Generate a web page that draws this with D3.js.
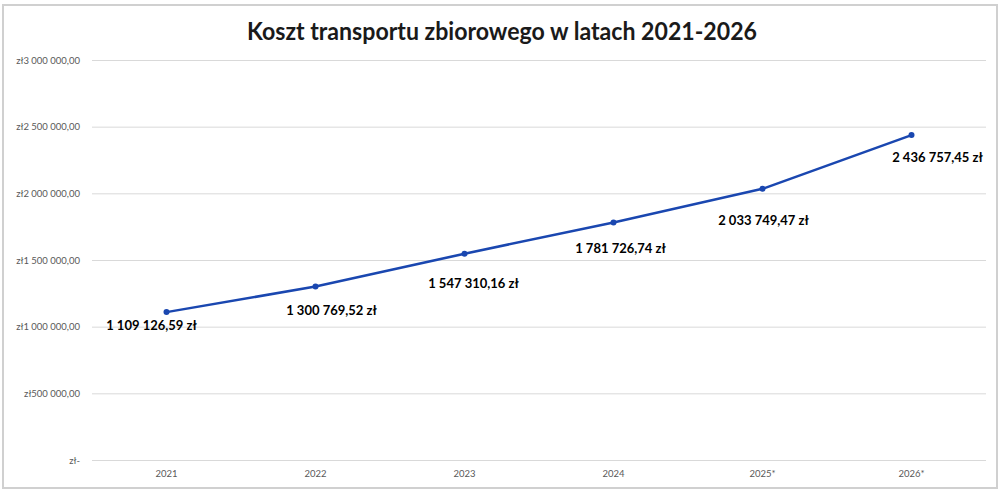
<!DOCTYPE html>
<html><head><meta charset="utf-8">
<script src="https://cdn.jsdelivr.net/npm/d3@7"></script>
<style>body{margin:0;background:#fff;}svg{display:block;}</style>
</head><body>
<svg id="c" width="1005" height="497"></svg>
<script>
const categories = ["2021","2022","2023","2024","2025*","2026*"];
const values = [1109126.59, 1300769.52, 1547310.16, 1781726.74, 2033749.47, 2436757.45];
const yTicks = [0, 500000, 1000000, 1500000, 2000000, 2500000, 3000000];
const yTickLabels = ["zł-","zł500 000,00","zł1 000 000,00","zł1 500 000,00","zł2 000 000,00","zł2 500 000,00","zł3 000 000,00"];
const dataLabels = ["1 109 126,59 zł","1 300 769,52 zł","1 547 310,16 zł","1 781 726,74 zł","2 033 749,47 zł","2 436 757,45 zł"];
const title = "Koszt transportu zbiorowego w latach 2021-2026";

// label placement offsets (style, not data)
const labelOffsets = [[-15,18],[16,28],[9,34],[7,31],[1,36],[26,27]];

const svg = d3.select("#c");
const W = 1005, H = 497;
const m = {left:92, right:19, top:60, bottom:37};

svg.append("rect").attr("x",3).attr("y",5).attr("width",994).attr("height",483)
  .attr("fill","#fff").attr("stroke","#d0d0d0").attr("stroke-width",2);

svg.append("text").attr("x",502).attr("y",40).attr("text-anchor","middle")
  .attr("font-family","Lato, sans-serif").attr("font-weight","bold")
  .attr("font-size",25).attr("fill","#1a1a1a")
  .attr("textLength",510).attr("lengthAdjust","spacingAndGlyphs").text(title);

const x = d3.scaleBand().domain(categories).range([m.left, W - m.right]);
const y = d3.scaleLinear().domain([0,3000000]).range([H - m.bottom, m.top]);

const yAxis = d3.axisLeft(y).tickValues(yTicks).tickSize(-(W - m.right - m.left)).tickPadding(12)
  .tickFormat((d,i)=>yTickLabels[i]);
const gy = svg.append("g").attr("transform",`translate(${m.left},0)`).call(yAxis);
gy.select(".domain").remove();
gy.selectAll(".tick line").attr("stroke","#d9d9d9").attr("stroke-width",1);
gy.selectAll(".tick text").attr("font-family","Lato, sans-serif").attr("font-size",9.5).attr("fill","#595959");

const xAxis = d3.axisBottom(x).tickSize(0).tickPadding(10);
const gx = svg.append("g").attr("transform",`translate(0,${H - m.bottom})`).call(xAxis);
gx.select(".domain").remove();
gx.selectAll(".tick text").attr("font-family","Lato, sans-serif").attr("font-size",9.5).attr("fill","#595959");

const cx = d => x(d) + x.bandwidth()/2;
const line = d3.line().x((d,i)=>cx(categories[i])).y(d=>y(d));
svg.append("path").datum(values).attr("d",line).attr("fill","none")
  .attr("stroke","#1a47b0").attr("stroke-width",2.5).attr("stroke-linejoin","round");

svg.selectAll("circle.pt").data(values).enter().append("circle")
  .attr("cx",(d,i)=>cx(categories[i])).attr("cy",d=>y(d)).attr("r",3).attr("fill","#1a47b0");

svg.selectAll("text.lbl").data(values).enter().append("text")
  .attr("x",(d,i)=>cx(categories[i]) + labelOffsets[i][0])
  .attr("y",(d,i)=>y(d) + labelOffsets[i][1])
  .attr("text-anchor","middle").attr("font-family","Lato, sans-serif")
  .attr("font-weight","bold").attr("font-size",13).attr("fill","#000")
  .text((d,i)=>dataLabels[i]);
</script>
</body></html>
